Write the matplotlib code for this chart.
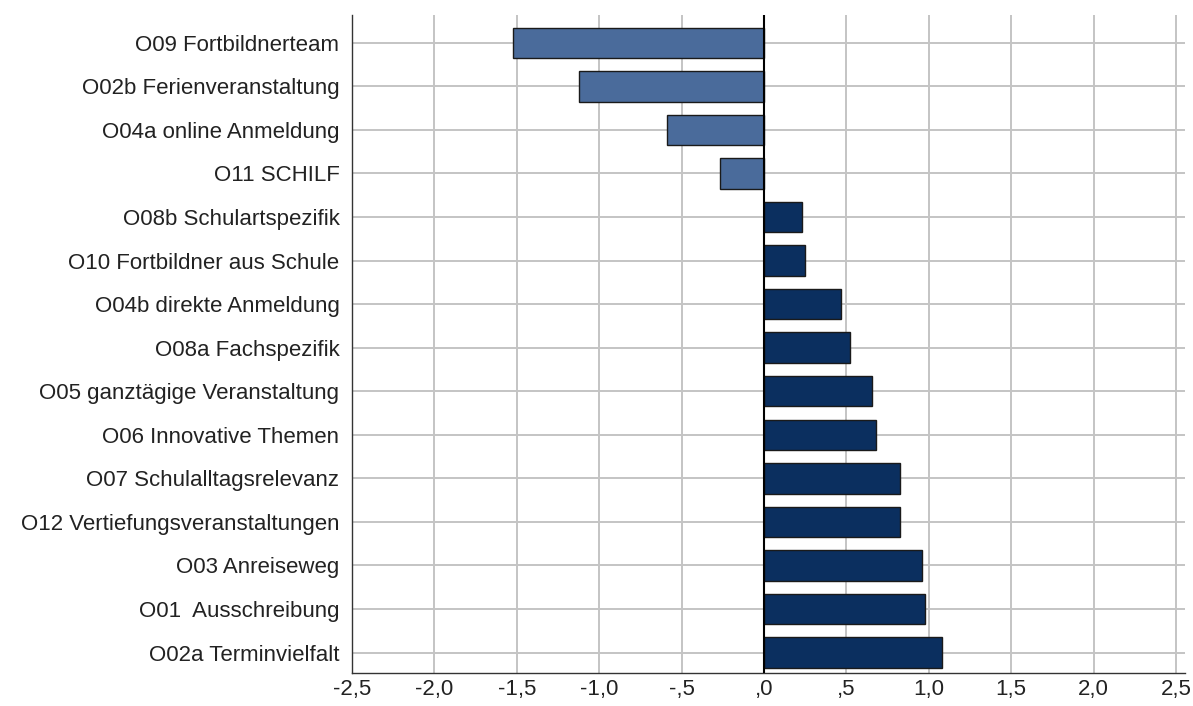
import matplotlib
matplotlib.use("Agg")
import matplotlib.pyplot as plt

categories = [
    "O09 Fortbildnerteam",
    "O02b Ferienveranstaltung",
    "O04a online Anmeldung",
    "O11 SCHILF",
    "O08b Schulartspezifik",
    "O10 Fortbildner aus Schule",
    "O04b direkte Anmeldung",
    "O08a Fachspezifik",
    "O05 ganztägige Veranstaltung",
    "O06 Innovative Themen",
    "O07 Schulalltagsrelevanz",
    "O12 Vertiefungsveranstaltungen",
    "O03 Anreiseweg",
    "O01  Ausschreibung",
    "O02a Terminvielfalt",
]
values = [-1.52, -1.12, -0.59, -0.265, 0.23, 0.25, 0.465, 0.52,
          0.657, 0.677, 0.824, 0.828, 0.962, 0.978, 1.079]
xticks = [-2.5, -2.0, -1.5, -1.0, -0.5, 0.0, 0.5, 1.0, 1.5, 2.0, 2.5]
xticklabels = ["-2,5", "-2,0", "-1,5", "-1,0", "-,5", ",0", ",5", "1,0", "1,5", "2,0", "2,5"]

neg_color = "#4a6b9b"
pos_color = "#0b2f5f"

plt.rcParams["font.family"] = ["Liberation Sans", "DejaVu Sans"]

fig = plt.figure(figsize=(11.93, 7.06), dpi=100)
ax = fig.add_axes([0.295, 0.0467, 0.9933 - 0.295, 0.9788 - 0.0467])

ypos = list(range(len(categories)))
colors = [neg_color if v < 0 else pos_color for v in values]
ax.barh(ypos, values, height=0.70, color=colors, edgecolor="#1a1a1a",
        linewidth=1.0, zorder=3)

ax.set_xlim(-2.5, 2.555)
ax.set_ylim(len(categories) - 1 + 0.47, -0.64)
ax.set_yticks(ypos)
ax.set_yticklabels(categories, fontsize=16, color="#222222")
ax.set_xticks(xticks)
ax.set_xticklabels(xticklabels, fontsize=16, color="#222222")

ax.grid(True, color="#c4c4c4", linewidth=1.4, zorder=0)
ax.set_axisbelow(True)
ax.axvline(0, color="black", linewidth=1.5, zorder=4)

for s in ["top", "right"]:
    ax.spines[s].set_visible(False)
ax.spines["left"].set_color("#333333")
ax.spines["bottom"].set_color("#333333")
ax.spines["left"].set_linewidth(1.0)
ax.spines["bottom"].set_linewidth(1.0)
ax.tick_params(axis="both", length=0)
ax.tick_params(axis="y", pad=9)
ax.tick_params(axis="x", pad=4)

fig.savefig("out.png", dpi=100)
